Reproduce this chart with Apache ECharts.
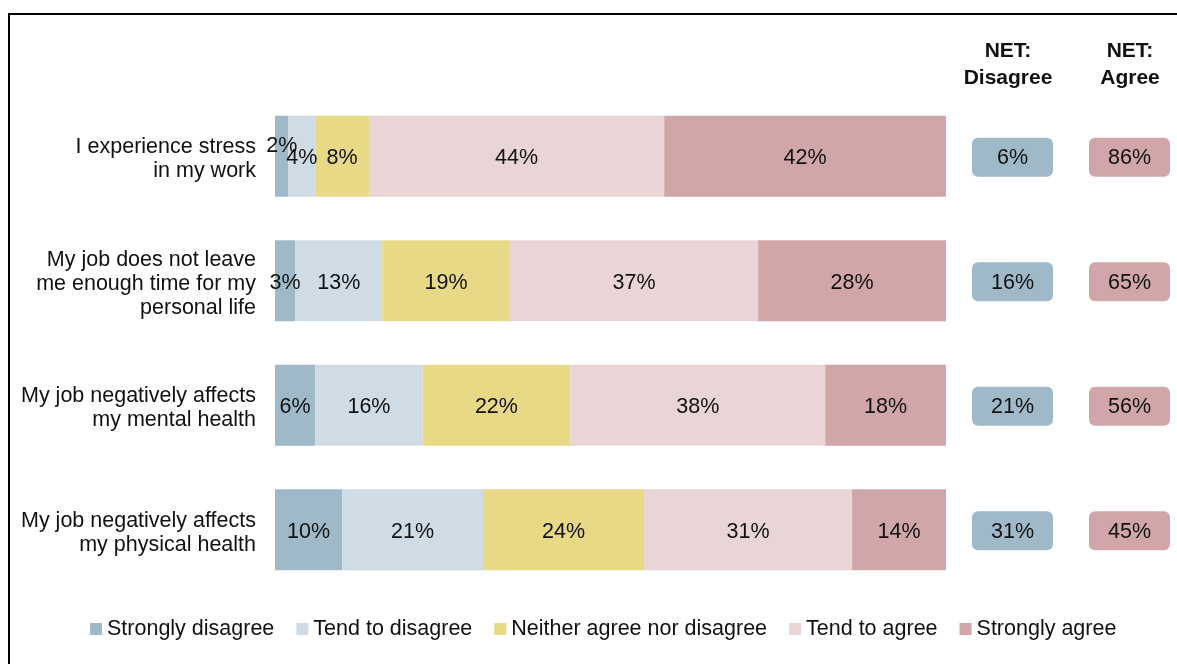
<!DOCTYPE html>
<html>
<head>
<meta charset="utf-8">
<script src="https://cdn.jsdelivr.net/npm/echarts@6/dist/echarts.min.js"></script>
<style>html,body{margin:0;padding:0;background:#fff;}#c{width:1177px;height:664px;}</style>
</head>
<body>
<div id="c"></div>
<script>
const categories = [
  'I experience stress\nin my work',
  'My job does not leave\nme enough time for my\npersonal life',
  'My job negatively affects\nmy mental health',
  'My job negatively affects\nmy physical health'
];
const seriesNames = ['Strongly disagree','Tend to disagree','Neither agree nor disagree','Tend to agree','Strongly agree'];
const stronglyDisagree = [2, 3, 6, 10];
const tendDisagree = [4, 13, 16, 21];
const neither = [8, 19, 22, 24];
const tendAgree = [44, 37, 38, 31];
const stronglyAgree = [42, 28, 18, 14];
const netHeaders = ['NET:\nDisagree', 'NET:\nAgree'];
const netDisagree = [6, 16, 21, 31];
const netAgree = [86, 65, 56, 45];

const colors = ['#9fb9c9', '#cfdce5', '#e7d986', '#e9d4d6', '#d0a6a8'];
const font = '"Liberation Sans", Arial, sans-serif';
const FS = 21.5;
const allValues = [stronglyDisagree, tendDisagree, neither, tendAgree, stronglyAgree];

const barSeries = allValues.map((arr, i) => ({
  name: seriesNames[i],
  type: 'bar',
  stack: 'total',
  xAxisIndex: 0,
  yAxisIndex: 0,
  barWidth: 81,
  itemStyle: { color: colors[i] },
  label: {
    show: true,
    position: 'inside',
    formatter: '{c}%',
    color: '#111',
    fontSize: FS,
    fontFamily: font,
    offset: [0, 2]
  },
  data: arr.map(v => v <= 2 ? { value: v, label: { offset: [0, -10] } } : v)
}));

const netData = [];
netDisagree.forEach((v, j) => netData.push([0, j, v, 0]));
netAgree.forEach((v, j) => netData.push([1, j, v, 4]));

const headerX = [1008, 1130];
const headerGraphics = netHeaders.map((t, i) => ({
  type: 'text',
  x: headerX[i],
  y: 38,
  style: {
    text: t,
    fontSize: 21,
    fontWeight: 'bold',
    fontFamily: font,
    fill: '#111',
    align: 'center',
    verticalAlign: 'top',
    lineHeight: 27
  },
  silent: true
}));

const chart = echarts.init(document.getElementById('c'), null, { renderer: 'canvas' });
chart.setOption({
  animation: false,
  textStyle: { fontFamily: font },
  graphic: [{
    type: 'rect',
    shape: { x: 9, y: 14, width: 1250, height: 750 },
    style: { fill: 'none', stroke: '#000', lineWidth: 2 },
    silent: true
  }].concat(headerGraphics),
  legend: {
    data: seriesNames,
    top: 613,
    left: 85,
    itemWidth: 12,
    itemHeight: 12,
    itemGap: 22,
    icon: 'rect',
    textStyle: { fontSize: FS, color: '#111', fontFamily: font }
  },
  grid: [
    { left: 275, width: 671, top: 94, height: 498 },
    { left: 895.5, width: 234, top: 94, height: 498 },
    { left: 275, width: 671, top: 97, height: 498 }
  ],
  xAxis: [
    { type: 'value', gridIndex: 0, min: 0, max: 100, show: false },
    { type: 'value', gridIndex: 1, min: -1, max: 1, show: false },
    { type: 'value', gridIndex: 2, min: 0, max: 100, show: false }
  ],
  yAxis: [
    { type: 'category', gridIndex: 0, data: categories, inverse: true, show: false },
    { type: 'category', gridIndex: 1, data: categories, inverse: true, show: false },
    {
      type: 'category', gridIndex: 2, data: categories, inverse: true,
      axisLine: { show: false }, axisTick: { show: false },
      axisLabel: { margin: 19, fontSize: FS, color: '#111', lineHeight: 24, align: 'right', fontFamily: font }
    }
  ],
  series: barSeries.concat([{
    type: 'custom',
    xAxisIndex: 1,
    yAxisIndex: 1,
    clip: false,
    renderItem: function (params, api) {
      const c = api.coord([api.value(0), api.value(1)]);
      const w = 81, h = 39;
      return {
        type: 'rect',
        shape: { x: c[0] - w / 2, y: c[1] - h / 2 + 1, width: w, height: h, r: 6 },
        style: { fill: colors[api.value(3)] },
        textContent: {
          style: { text: api.value(2) + '%', fill: '#111', fontSize: FS, fontFamily: font }
        },
        textConfig: { position: 'inside', offset: [0, 1] }
      };
    },
    data: netData
  }])
});
</script>
</body>
</html>
